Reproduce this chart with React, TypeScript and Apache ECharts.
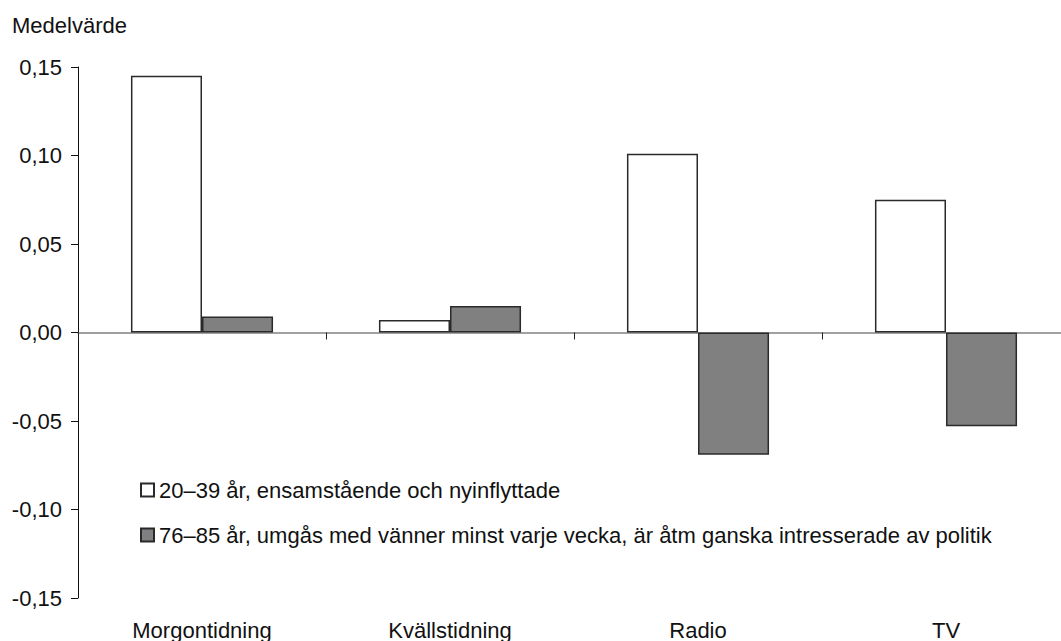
import React, { useEffect, useRef } from "react";
import * as echarts from "echarts";

const categories = ["Morgontidning", "Kvällstidning", "Radio", "TV"];
const seriesNames = [
  "20–39 år, ensamstående och nyinflyttade",
  "76–85 år, umgås med vänner minst varje vecka, är åtm ganska intresserade av politik",
];
const youngValues = [0.145, 0.007, 0.101, 0.075];
const oldValues = [0.009, 0.015, -0.069, -0.053];
const yTicks = { min: -0.15, max: 0.15, interval: 0.05 };
const yTitle = "Medelvärde";

const FONT = "'Liberation Sans', Arial, sans-serif";
const FS = 22;

export default function App() {
  const ref = useRef<HTMLDivElement>(null);
  useEffect(() => {
    if (!ref.current) return;
    const chart = echarts.init(ref.current, null, { renderer: "svg" });
    chart.setOption({
      animation: false,
      backgroundColor: "#ffffff",
      textStyle: { fontFamily: FONT },
      title: {
        text: yTitle,
        left: 12,
        top: 14,
        padding: 0,
        textStyle: { fontFamily: FONT, fontSize: FS, fontWeight: "normal", color: "#111", lineHeight: 22 },
      },
      grid: { left: 78, right: 0, top: 67, bottom: 43, containLabel: false },
      legend: {
        orient: "vertical",
        left: 140,
        top: 479,
        padding: 0,
        itemGap: 23,
        itemWidth: 13,
        itemHeight: 13,
        icon: "rect",
        data: seriesNames,
        textStyle: { fontFamily: FONT, fontSize: FS, color: "#111", lineHeight: 22 },
      },
      xAxis: [
        {
          type: "category",
          data: categories,
          position: "bottom",
          axisLine: { onZero: true, lineStyle: { color: "#808080", width: 1.5 } },
          axisTick: { show: true, length: 7, inside: false, lineStyle: { color: "#222", width: 1 } },
          axisLabel: { show: false },
          splitLine: { show: false },
        },
        {
          type: "category",
          data: categories,
          position: "bottom",
          axisLine: { show: false, onZero: false },
          axisTick: { show: false },
          axisLabel: { show: true, margin: 21, fontFamily: FONT, fontSize: FS, color: "#111" },
          splitLine: { show: false },
        },
      ],
      yAxis: {
        type: "value",
        min: yTicks.min,
        max: yTicks.max,
        interval: yTicks.interval,
        axisLine: { show: true, lineStyle: { color: "#111", width: 1 } },
        axisTick: { show: true, length: 7, lineStyle: { color: "#111" } },
        axisLabel: {
          margin: 16,
          fontFamily: FONT,
          fontSize: FS,
          color: "#111",
          formatter: (v: number) => v.toFixed(2).replace(".", ","),
        },
        splitLine: { show: false },
      },
      series: [
        {
          name: seriesNames[0],
          type: "bar",
          xAxisIndex: 0,
          data: youngValues,
          barGap: "0%",
          barCategoryGap: "42.7%",
          itemStyle: { color: "#ffffff", borderColor: "#2a2a2a", borderWidth: 1.5 },
        },
        {
          name: seriesNames[1],
          type: "bar",
          xAxisIndex: 0,
          data: oldValues,
          barGap: "0%",
          barCategoryGap: "42.7%",
          itemStyle: { color: "#808080", borderColor: "#2a2a2a", borderWidth: 1.5 },
        },
      ],
    });
    return () => chart.dispose();
  }, []);
  return (
    <div style={{ position: "fixed", left: 0, top: 0, width: 1061, height: 641, overflow: "hidden", background: "#fff" }}>
      <div ref={ref} style={{ position: "absolute", left: 0, top: 0, width: 1070, height: 641 }} />
    </div>
  );
}
